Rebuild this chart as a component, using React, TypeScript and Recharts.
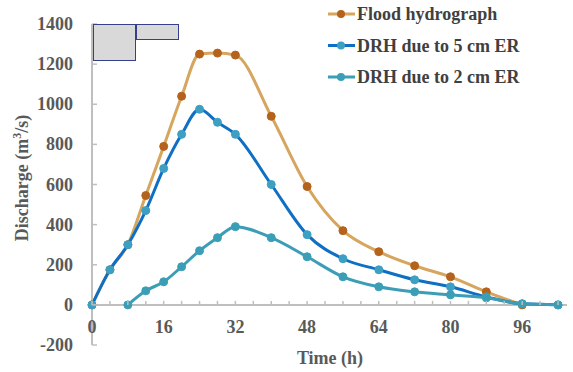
import { LineChart, Line, XAxis, YAxis, ReferenceLine, Legend, Label } from 'recharts';

// Time (h) of each observation
const hours = [0, 4, 8, 12, 16, 20, 24, 28, 32, 40, 48, 56, 64, 72, 80, 88, 96, 104];
// Discharge (m3/s)
const flood = [0, 175, 300, 545, 790, 1040, 1250, 1255, 1245, 940, 590, 370, 265, 195, 140, 65, 0, null];
const drh5 = [0, 175, 300, 470, 680, 850, 975, 910, 850, 600, 350, 230, 175, 125, 90, 40, 5, 0];
const drh2 = [null, null, 0, 70, 115, 190, 270, 335, 390, 335, 240, 140, 90, 65, 50, 35, 5, 0];

const xTicks = [0, 4, 8, 12, 16, 20, 24, 28, 32, 36, 40, 44, 48, 52, 56, 60, 64, 68, 72, 76, 80, 84, 88, 92, 96, 100, 104];
const xLabels = [0, 16, 32, 48, 64, 80, 96];
const yTicks = [-200, 0, 200, 400, 600, 800, 1000, 1200, 1400];

const series = [
  { key: 'flood', name: 'Flood hydrograph', line: '#d6a55e', dot: '#b5621c' },
  { key: 'drh5', name: 'DRH due to 5 cm ER', line: '#0e6fc4', dot: '#3d9fc2' },
  { key: 'drh2', name: 'DRH due to 2 cm ER', line: '#3c9db6', dot: '#3a9fb6' },
];

const data = hours.map((h, i) => ({ h, flood: flood[i], drh5: drh5[i], drh2: drh2[i] }));

const W = 573;
const H = 372;
const TOP = 24;
const BOTTOM = 345;
const ZERO_Y = TOP + (1400 / 1600) * (BOTTOM - TOP);
const FONT = '"Liberation Serif", "Times New Roman", serif';
const AXIS = '#bfbfbf';
const TXT = '#595959';

const XTick = (props: any) => {
  const { x, payload } = props;
  return (
    <g>
      <line x1={x} x2={x} y1={ZERO_Y} y2={ZERO_Y - 4} stroke={AXIS} strokeWidth={1.5} />
      {xLabels.includes(payload.value) && (
        <text x={x} y={ZERO_Y + 28} textAnchor="middle" fontFamily={FONT} fontSize={18} fontWeight="bold" fill={TXT}>
          {payload.value}
        </text>
      )}
    </g>
  );
};

const YTick = (props: any) => {
  const { y, payload } = props;
  return (
    <g>
      <line x1={92} x2={97} y1={y} y2={y} stroke={AXIS} strokeWidth={1.5} />
      <text x={73} y={y + 6} textAnchor="end" fontFamily={FONT} fontSize={18} fontWeight="bold" fill={TXT}>
        {payload.value}
      </text>
    </g>
  );
};

const LegendBox = () => (
  <svg width={260} height={95}>
    {series.map((s, i) => {
      const cy = 14 + i * 31.5;
      return (
        <g key={s.key}>
          <line x1={8} x2={35} y1={cy} y2={cy} stroke={s.line} strokeWidth={3} />
          <circle cx={21} cy={cy} r={4} fill={s.dot} />
          <text x={37} y={cy + 6} fontFamily={FONT} fontSize={18} fontWeight="bold" fill="#404040">
            {s.name}
          </text>
        </g>
      );
    })}
  </svg>
);

export default function App() {
  return (
    <div style={{ position: 'absolute', left: 0, top: 0, width: W, height: H, background: '#fff' }}>
      <LineChart width={W} height={H} data={data} margin={{ top: TOP, right: 6, left: 0, bottom: 0 }}>
        <XAxis
          dataKey="h"
          type="number"
          domain={[0, 106]}
          ticks={xTicks}
          interval={0}
          axisLine={false}
          tickLine={false}
          height={H - BOTTOM}
          tick={<XTick />}
        >
          <Label
            content={() => (
              <text x={330} y={364} textAnchor="middle" fontFamily={FONT} fontSize={18} fontWeight="bold" fill={TXT}>
                Time (h)
              </text>
            )}
          />
        </XAxis>
        <YAxis
          type="number"
          domain={[-200, 1400]}
          ticks={yTicks}
          interval={0}
          width={92}
          axisLine={{ stroke: AXIS, strokeWidth: 2 }}
          tickLine={false}
          tick={<YTick />}
        >
          <Label
            content={() => (
              <text
                x={28}
                y={178}
                transform="rotate(-90 28 178)"
                textAnchor="middle"
                fontFamily={FONT}
                fontSize={18}
                fontWeight="bold"
                fill={TXT}
              >
                Discharge (m<tspan dy={-7} fontSize={12}>3</tspan>
                <tspan dy={7}>/s)</tspan>
              </text>
            )}
          />
        </YAxis>
        <ReferenceLine y={0} stroke={AXIS} strokeWidth={2} />
        {series.map((s) => (
          <Line
            key={s.key}
            dataKey={s.key}
            name={s.name}
            type="monotone"
            stroke={s.line}
            strokeWidth={3}
            dot={{ r: 4, fill: s.dot, stroke: s.dot, strokeWidth: 1 }}
            activeDot={false}
            connectNulls={false}
            isAnimationActive={false}
          />
        ))}
        <Legend
          layout="horizontal"
          verticalAlign="middle"
          align="center"
          wrapperStyle={{ top: 0, left: 320, width: 260, height: 95 }}
          content={() => <LegendBox />}
        />
      </LineChart>
      <div
        style={{
          position: 'absolute',
          left: 93,
          top: 24,
          width: 43,
          height: 37,
          boxSizing: 'border-box',
          background: '#d9d9d9',
          border: '1.5px solid #36408a',
        }}
      />
      <div
        style={{
          position: 'absolute',
          left: 136,
          top: 24,
          width: 43,
          height: 16,
          boxSizing: 'border-box',
          background: '#d9d9d9',
          border: '1.5px solid #36408a',
        }}
      />
    </div>
  );
}
